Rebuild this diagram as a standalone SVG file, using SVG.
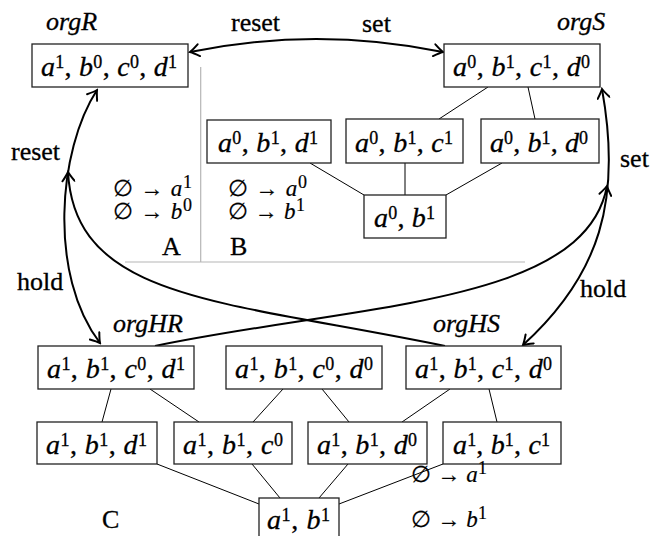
<svg xmlns="http://www.w3.org/2000/svg" width="651" height="536" viewBox="0 0 651 536">
<defs>
<style>
.box{fill:#fff;stroke:#222;stroke-width:1.3}
.ln{stroke:#000;stroke-width:1;fill:none}
.sep{stroke:#b5b5b5;stroke-width:1.2;fill:none}
.arr{stroke:#000;stroke-width:2;fill:none}
.t{font-family:'Liberation Serif','DejaVu Serif',serif;font-size:26px;fill:#000;stroke:#000;stroke-width:0.3}
.m{font-family:'Liberation Serif','DejaVu Serif',serif;font-size:28px;fill:#000;stroke:#000;stroke-width:0.3}
.e{font-family:'Liberation Serif','DejaVu Serif',serif;font-size:23px;fill:#000;stroke:#000;stroke-width:0.2}
.it{font-style:italic}
.sup{font-size:18px;font-style:normal}
</style>
<marker id="ah" viewBox="-11 -7 13 14" refX="0" refY="0" markerWidth="13" markerHeight="14" markerUnits="userSpaceOnUse" orient="auto-start-reverse">
<path d="M -9 -6 Q -3 -1.5 0 0 Q -3 1.5 -9 6" fill="none" stroke="#000" stroke-width="2" stroke-linecap="round"/>
</marker>
</defs>
<rect width="651" height="536" fill="#fff"/>

<g id="separators">
<line class="sep" x1="200.7" y1="67" x2="200.7" y2="262"/>
<line class="sep" x1="125" y1="262" x2="525" y2="262"/>
</g>

<g id="lines">
<line class="ln" x1="488" y1="87" x2="439" y2="119"/>
<line class="ln" x1="528" y1="87" x2="535" y2="119"/>
<line class="ln" x1="310" y1="163" x2="364" y2="195"/>
<line class="ln" x1="405" y1="163" x2="405" y2="195"/>
<line class="ln" x1="502" y1="163" x2="446" y2="195"/>
<line class="ln" x1="111" y1="389" x2="102" y2="422"/>
<line class="ln" x1="150" y1="389" x2="199" y2="422"/>
<line class="ln" x1="283" y1="389" x2="253" y2="422"/>
<line class="ln" x1="322" y1="389" x2="349" y2="422"/>
<line class="ln" x1="450" y1="389" x2="402" y2="422"/>
<line class="ln" x1="489" y1="389" x2="497" y2="422"/>
<line class="ln" x1="157" y1="464" x2="259" y2="504"/>
<line class="ln" x1="252" y1="464" x2="280" y2="498"/>
<line class="ln" x1="348" y1="464" x2="319" y2="498"/>
<line class="ln" x1="443" y1="464" x2="339" y2="504"/>
</g>

<g id="connectors">
<path class="arr" d="M 190 52 Q 316 26 443 52" marker-start="url(#ah)" marker-end="url(#ah)"/>
<path class="arr" d="M 97 90 C 58 150 48 275 100 343" marker-start="url(#ah)" marker-end="url(#ah)"/>
<path class="arr" d="M 602 89 C 622 200 600 275 523 345" marker-start="url(#ah)" marker-end="url(#ah)"/>
<path class="arr" d="M 445 346 C 220 300 75 300 68 172" marker-end="url(#ah)"/>
<path class="arr" d="M 155 346 C 357 304 585 305 607 186" marker-end="url(#ah)"/>
<text class="t" x="231" y="31">reset</text>
<text class="t" x="362" y="32">set</text>
<text class="t" x="11" y="160">reset</text>
<text class="t" x="17" y="290">hold</text>
<text class="t" x="620" y="167">set</text>
<text class="t" x="580" y="297">hold</text>
</g>

<g id="orgR">
<text class="t it" x="46" y="30">orgR</text>
<rect class="box" x="32" y="44" width="156" height="43"/>
<text class="m" x="109" y="76" text-anchor="middle" textLength="136" lengthAdjust="spacing"><tspan class="it">a</tspan><tspan class="sup" dy="-8">1</tspan><tspan dy="8">, </tspan><tspan class="it">b</tspan><tspan class="sup" dy="-8">0</tspan><tspan dy="8">, </tspan><tspan class="it">c</tspan><tspan class="sup" dy="-8">0</tspan><tspan dy="8">, </tspan><tspan class="it">d</tspan><tspan class="sup" dy="-8">1</tspan></text>
</g>

<g id="orgS">
<text class="t it" x="557" y="30">orgS</text>
<rect class="box" x="444" y="44" width="156" height="43"/>
<text class="m" x="521.5" y="76" text-anchor="middle" textLength="137" lengthAdjust="spacing"><tspan class="it">a</tspan><tspan class="sup" dy="-8">0</tspan><tspan dy="8">, </tspan><tspan class="it">b</tspan><tspan class="sup" dy="-8">1</tspan><tspan dy="8">, </tspan><tspan class="it">c</tspan><tspan class="sup" dy="-8">1</tspan><tspan dy="8">, </tspan><tspan class="it">d</tspan><tspan class="sup" dy="-8">0</tspan></text>
</g>

<g id="n_a0b1d1">
<rect class="box" x="207" y="120" width="124" height="43"/>
<text class="m" x="268" y="152" text-anchor="middle" textLength="100" lengthAdjust="spacing"><tspan class="it">a</tspan><tspan class="sup" dy="-8">0</tspan><tspan dy="8">, </tspan><tspan class="it">b</tspan><tspan class="sup" dy="-8">1</tspan><tspan dy="8">, </tspan><tspan class="it">d</tspan><tspan class="sup" dy="-8">1</tspan></text>
</g>

<g id="n_a0b1c1">
<rect class="box" x="346" y="119" width="117" height="44"/>
<text class="m" x="404" y="152" text-anchor="middle" textLength="98" lengthAdjust="spacing"><tspan class="it">a</tspan><tspan class="sup" dy="-8">0</tspan><tspan dy="8">, </tspan><tspan class="it">b</tspan><tspan class="sup" dy="-8">1</tspan><tspan dy="8">, </tspan><tspan class="it">c</tspan><tspan class="sup" dy="-8">1</tspan></text>
</g>

<g id="n_a0b1d0">
<rect class="box" x="481" y="119" width="118" height="44"/>
<text class="m" x="539" y="152" text-anchor="middle" textLength="98" lengthAdjust="spacing"><tspan class="it">a</tspan><tspan class="sup" dy="-8">0</tspan><tspan dy="8">, </tspan><tspan class="it">b</tspan><tspan class="sup" dy="-8">1</tspan><tspan dy="8">, </tspan><tspan class="it">d</tspan><tspan class="sup" dy="-8">0</tspan></text>
</g>

<g id="n_a0b1">
<rect class="box" x="364" y="195" width="82" height="43"/>
<text class="m" x="404.5" y="227" text-anchor="middle" textLength="61" lengthAdjust="spacing"><tspan class="it">a</tspan><tspan class="sup" dy="-8">0</tspan><tspan dy="8">, </tspan><tspan class="it">b</tspan><tspan class="sup" dy="-8">1</tspan></text>
</g>

<g id="regionA">
<text class="e" x="113" y="196" textLength="79" lengthAdjust="spacing">∅ → <tspan class="it">a</tspan><tspan class="sup" dy="-8">1</tspan></text>
<text class="e" x="113" y="219" textLength="79" lengthAdjust="spacing">∅ → <tspan class="it">b</tspan><tspan class="sup" dy="-8">0</tspan></text>
<text class="t" x="162" y="255">A</text>
</g>

<g id="regionB">
<text class="e" x="228" y="196" textLength="79" lengthAdjust="spacing">∅ → <tspan class="it">a</tspan><tspan class="sup" dy="-8">0</tspan></text>
<text class="e" x="228" y="219" textLength="77" lengthAdjust="spacing">∅ → <tspan class="it">b</tspan><tspan class="sup" dy="-8">1</tspan></text>
<text class="t" x="230" y="255">B</text>
</g>

<g id="orgHR">
<text class="t it" x="113" y="332">orgHR</text>
<rect class="box" x="38" y="346" width="156" height="43"/>
<text class="m" x="116" y="378" text-anchor="middle" textLength="138" lengthAdjust="spacing"><tspan class="it">a</tspan><tspan class="sup" dy="-8">1</tspan><tspan dy="8">, </tspan><tspan class="it">b</tspan><tspan class="sup" dy="-8">1</tspan><tspan dy="8">, </tspan><tspan class="it">c</tspan><tspan class="sup" dy="-8">0</tspan><tspan dy="8">, </tspan><tspan class="it">d</tspan><tspan class="sup" dy="-8">1</tspan></text>
</g>

<g id="n_a1b1c0d0">
<rect class="box" x="226" y="346" width="156" height="43"/>
<text class="m" x="304" y="378" text-anchor="middle" textLength="138" lengthAdjust="spacing"><tspan class="it">a</tspan><tspan class="sup" dy="-8">1</tspan><tspan dy="8">, </tspan><tspan class="it">b</tspan><tspan class="sup" dy="-8">1</tspan><tspan dy="8">, </tspan><tspan class="it">c</tspan><tspan class="sup" dy="-8">0</tspan><tspan dy="8">, </tspan><tspan class="it">d</tspan><tspan class="sup" dy="-8">0</tspan></text>
</g>

<g id="orgHS">
<text class="t it" x="433" y="332">orgHS</text>
<rect class="box" x="406" y="346" width="155" height="43"/>
<text class="m" x="483.5" y="378" text-anchor="middle" textLength="137" lengthAdjust="spacing"><tspan class="it">a</tspan><tspan class="sup" dy="-8">1</tspan><tspan dy="8">, </tspan><tspan class="it">b</tspan><tspan class="sup" dy="-8">1</tspan><tspan dy="8">, </tspan><tspan class="it">c</tspan><tspan class="sup" dy="-8">1</tspan><tspan dy="8">, </tspan><tspan class="it">d</tspan><tspan class="sup" dy="-8">0</tspan></text>
</g>

<g id="n_a1b1d1">
<rect class="box" x="37" y="422" width="120" height="42"/>
<text class="m" x="96.5" y="454" text-anchor="middle" textLength="101" lengthAdjust="spacing"><tspan class="it">a</tspan><tspan class="sup" dy="-8">1</tspan><tspan dy="8">, </tspan><tspan class="it">b</tspan><tspan class="sup" dy="-8">1</tspan><tspan dy="8">, </tspan><tspan class="it">d</tspan><tspan class="sup" dy="-8">1</tspan></text>
</g>

<g id="n_a1b1c0">
<rect class="box" x="174" y="422" width="118" height="42"/>
<text class="m" x="233" y="454" text-anchor="middle" textLength="100" lengthAdjust="spacing"><tspan class="it">a</tspan><tspan class="sup" dy="-8">1</tspan><tspan dy="8">, </tspan><tspan class="it">b</tspan><tspan class="sup" dy="-8">1</tspan><tspan dy="8">, </tspan><tspan class="it">c</tspan><tspan class="sup" dy="-8">0</tspan></text>
</g>

<g id="n_a1b1d0">
<rect class="box" x="308" y="422" width="119" height="42"/>
<text class="m" x="367" y="454" text-anchor="middle" textLength="100" lengthAdjust="spacing"><tspan class="it">a</tspan><tspan class="sup" dy="-8">1</tspan><tspan dy="8">, </tspan><tspan class="it">b</tspan><tspan class="sup" dy="-8">1</tspan><tspan dy="8">, </tspan><tspan class="it">d</tspan><tspan class="sup" dy="-8">0</tspan></text>
</g>

<g id="n_a1b1c1">
<rect class="box" x="443" y="422" width="118" height="42"/>
<text class="m" x="501.5" y="454" text-anchor="middle" textLength="97" lengthAdjust="spacing"><tspan class="it">a</tspan><tspan class="sup" dy="-8">1</tspan><tspan dy="8">, </tspan><tspan class="it">b</tspan><tspan class="sup" dy="-8">1</tspan><tspan dy="8">, </tspan><tspan class="it">c</tspan><tspan class="sup" dy="-8">1</tspan></text>
</g>

<g id="n_a1b1">
<rect class="box" x="259" y="498" width="80" height="45"/>
<text class="m" x="298.5" y="529" text-anchor="middle" textLength="63" lengthAdjust="spacing"><tspan class="it">a</tspan><tspan class="sup" dy="-8">1</tspan><tspan dy="8">, </tspan><tspan class="it">b</tspan><tspan class="sup" dy="-8">1</tspan></text>
</g>

<g id="regionC">
<text class="e" x="411" y="482" textLength="76" lengthAdjust="spacing">∅ → <tspan class="it">a</tspan><tspan class="sup" dy="-8">1</tspan></text>
<text class="e" x="411" y="527" textLength="76" lengthAdjust="spacing">∅ → <tspan class="it">b</tspan><tspan class="sup" dy="-8">1</tspan></text>
<text class="t" x="102" y="528">C</text>
</g>
</svg>
